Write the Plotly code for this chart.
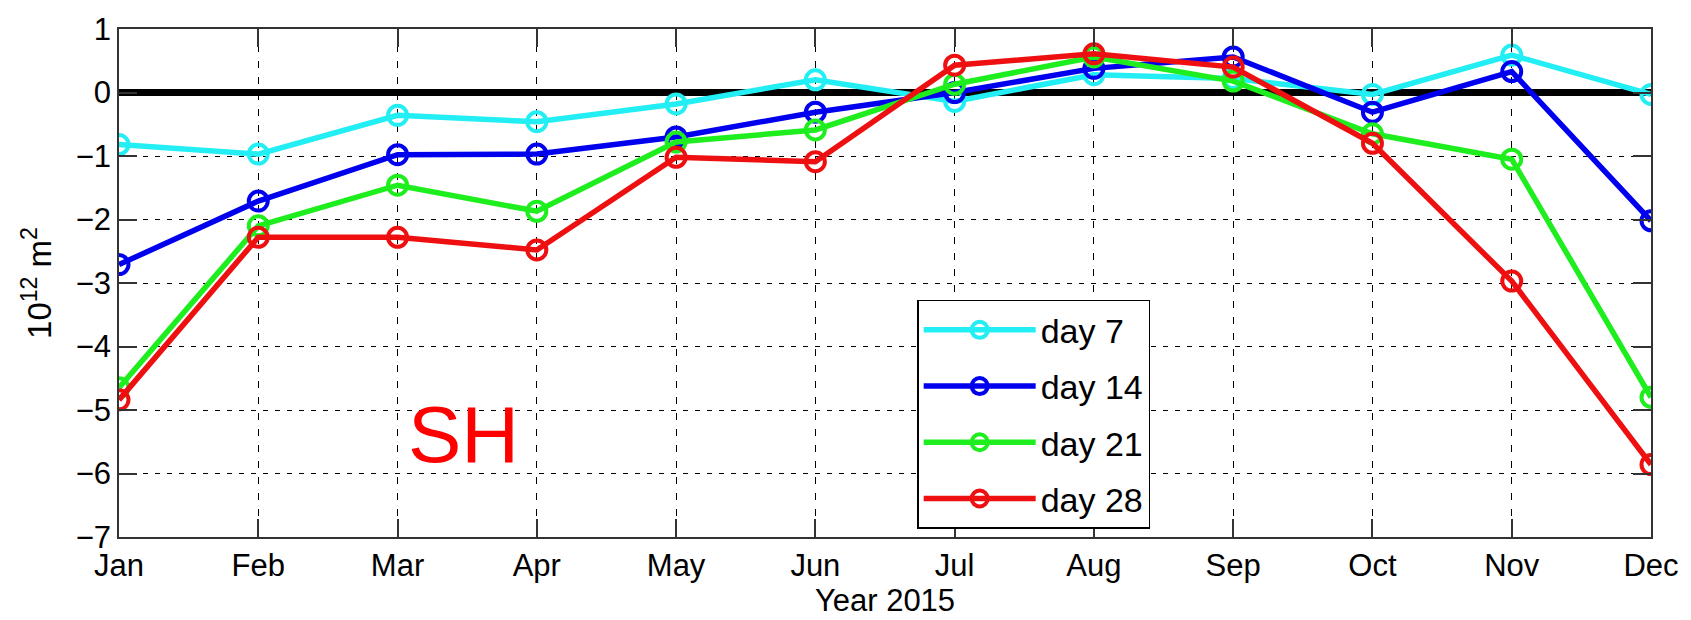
import plotly.graph_objects as go

# Monthly anomalies for 2015 (units of 10^12 m^2)
months = ["Jan", "Feb", "Mar", "Apr", "May", "Jun",
          "Jul", "Aug", "Sep", "Oct", "Nov", "Dec"]

day7 = [-0.82, -0.97, -0.36, -0.46, -0.18, 0.20,
        -0.14, 0.28, 0.22, -0.03, 0.59, -0.03]
day14 = [-2.71, -1.71, -0.98, -0.97, -0.70, -0.31,
         0.00, 0.38, 0.56, -0.31, 0.33, -2.02]
day21 = [-4.65, -2.10, -1.46, -1.87, -0.78, -0.59,
         0.13, 0.56, 0.18, -0.65, -1.05, -4.80]
day28 = [-4.84, -2.28, -2.28, -2.48, -1.02, -1.09,
         0.43, 0.61, 0.40, -0.80, -2.97, -5.86]

series = [
    ("day 7", day7, "#22EEF4"),
    ("day 14", day14, "#0000EE"),
    ("day 21", day21, "#1EEE1E"),
    ("day 28", day28, "#EE1010"),
]

FONT = "Liberation Sans, Arial, Helvetica, sans-serif"

fig = go.Figure()
for i, (name, vals, color) in enumerate(series):
    fig.add_trace(go.Scatter(
        x=months, y=vals, name=name, mode="lines+markers",
        line=dict(color=color, width=5.5),
        marker=dict(symbol="circle-open", size=19, color=color,
                    line=dict(color=color, width=4)),
        legendgroup=f"g{i}",
    ))

fig.add_annotation(
    x=2.47, y=-5.38, xref="x", yref="y", text="SH", showarrow=False,
    font=dict(family=FONT, size=80, color="#FF0000"),
)

fig.update_layout(
    width=1691, height=620,
    margin=dict(l=119, r=38, t=20, b=82),
    paper_bgcolor="white", plot_bgcolor="white",
    font=dict(family=FONT, size=31, color="black"),
    showlegend=True,
    legend=dict(
        x=0.521, y=0.467, xanchor="left", yanchor="top",
        bgcolor="white", bordercolor="black", borderwidth=1.5,
        font=dict(family=FONT, size=34, color="black"),
        itemwidth=112, tracegroupgap=9, traceorder="grouped",
    ),
    xaxis=dict(
        type="category", range=[0, 11],
        showline=True, linecolor="#333", linewidth=1.5, mirror="allticks",
        ticks="inside", ticklen=18, tickcolor="#333", tickwidth=1.5,
        showgrid=True, gridcolor="black", gridwidth=1.2, griddash="7px,9px",
        tickfont=dict(family=FONT, size=31),
        title=dict(text="Year 2015", font=dict(family=FONT, size=31),
                   standoff=3),
        zeroline=False,
    ),
    yaxis=dict(
        range=[-7, 1], tickvals=list(range(-7, 2)),
        ticktext=["\u22127", "\u22126", "\u22125", "\u22124", "\u22123",
                  "\u22122", "\u22121", "0", "1"],
        showline=True, linecolor="#333", linewidth=1.5, mirror="allticks",
        ticks="inside", ticklen=18, tickcolor="#333", tickwidth=1.5,
        showgrid=True, gridcolor="black", gridwidth=1.2, griddash="5px,7px",
        zeroline=True, zerolinecolor="black", zerolinewidth=7,
        tickfont=dict(family=FONT, size=31),
        title=dict(text="10<sup>12</sup> m<sup>2</sup>",
                   font=dict(family=FONT, size=33), standoff=14),
    ),
)

fig.write_html("out.html")
